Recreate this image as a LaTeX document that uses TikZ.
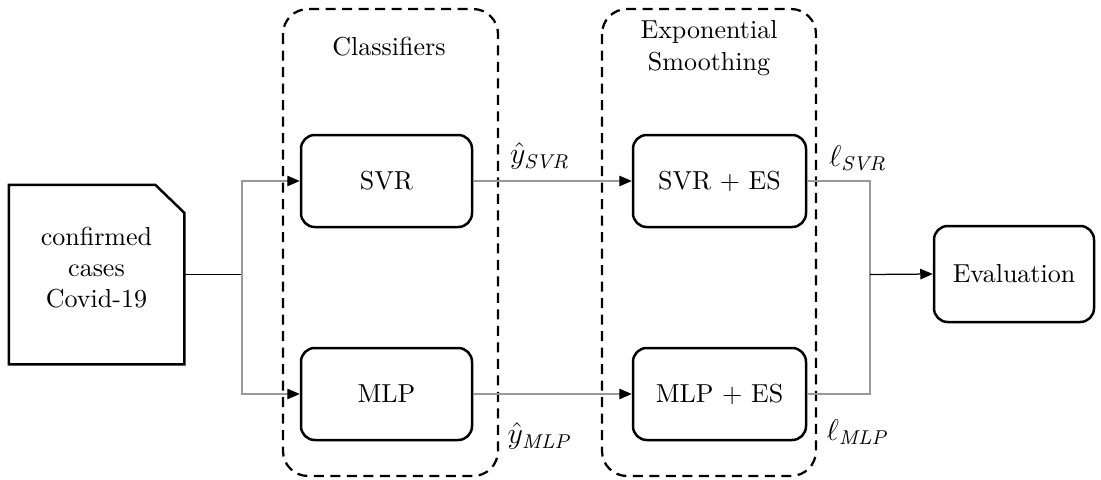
\documentclass[tikz,border=0pt]{standalone}
\usetikzlibrary{arrows.meta}
\begin{document}
\begin{tikzpicture}[x=0.4pt,y=-0.4pt,
  block/.style={draw, line width=1pt, rounded corners=5.5pt, align=center,
    inner sep=0pt, font=\fontsize{10.4}{12.5}\selectfont},
  group/.style={draw, line width=0.9pt, dash pattern=on 4pt off 2.6pt, rounded corners=10pt},
  link/.style={draw=black!40, line width=0.5pt},
  tip/.style={-{Triangle[length=5pt,width=4.2pt,color=black]}},
  lbl/.style={font=\fontsize{11.5}{13}\selectfont, inner sep=0pt},
  title/.style={align=center, font=\fontsize{10.4}{12.6}\selectfont, inner sep=0pt}]
\useasboundingbox (0,0) rectangle (1101,480);

% dashed groups
\draw[group] (283,9) rectangle (498,476);
\draw[group] (602,9) rectangle (816,476);
\node[title] (tcls) at (389,47) {Classifiers};
\node[title] (tes) at (709,48) {Exponential\\Smoothing};

% input document with a cut corner
\node[block, draw=none, minimum width=173*0.4pt, minimum height=177*0.4pt] (doc) at (96.5,274.5) {};
\draw[line width=1pt] (doc.south west) -- (doc.north west) -- ([xshift=-29*0.4pt]doc.north east)
  -- ([yshift=-28*0.4pt]doc.north east) -- (doc.south east) -- cycle;
\node[title, font=\fontsize{10.4}{12.4}\selectfont] (doctext) at (96.5,268) {confirmed\\cases\\Covid-19};

% processing blocks
\node[block, minimum width=171*0.4pt, minimum height=92*0.4pt] (svr) at (386.5,181) {SVR};
\node[block, minimum width=171*0.4pt, minimum height=92*0.4pt] (mlp) at (386.5,394) {MLP};
\node[block, minimum width=173*0.4pt, minimum height=92*0.4pt] (svres) at (719.5,181) {SVR + ES};
\node[block, minimum width=173*0.4pt, minimum height=92*0.4pt] (mlpes) at (719.5,394) {MLP + ES};
\node[block, minimum width=160*0.4pt, minimum height=96*0.4pt] (eval) at (1014,274) {Evaluation};

% connectors
\coordinate (jl) at (242,274.5);
\coordinate (jr) at (870,274.5);
\draw[line width=0.5pt] (doc.east) -- (jl);
\draw[link, tip] (jl) |- (svr.west);
\draw[link, tip] (jl) |- (mlp.west);
\draw[link, tip] (svr.east) -- (svres.west);
\draw[link, tip] (mlp.east) -- (mlpes.west);
\draw[link] (svres.east) -| (jr);
\draw[link] (mlpes.east) -| (jr);
\draw[line width=0.5pt, tip] (jr) -- (eval.west);

% signal labels
\node[lbl] (ysvr) at (540,156) {$\hat{y}_{\mathit{SVR}}$};
\node[lbl] (ymlp) at (540,436) {$\hat{y}_{\mathit{MLP}}$};
\node[lbl] (lsvr) at (858,158) {$\ell_{\mathit{SVR}}$};
\node[lbl] (lmlp) at (858,432) {$\ell_{\mathit{MLP}}$};
\end{tikzpicture}
\end{document}
